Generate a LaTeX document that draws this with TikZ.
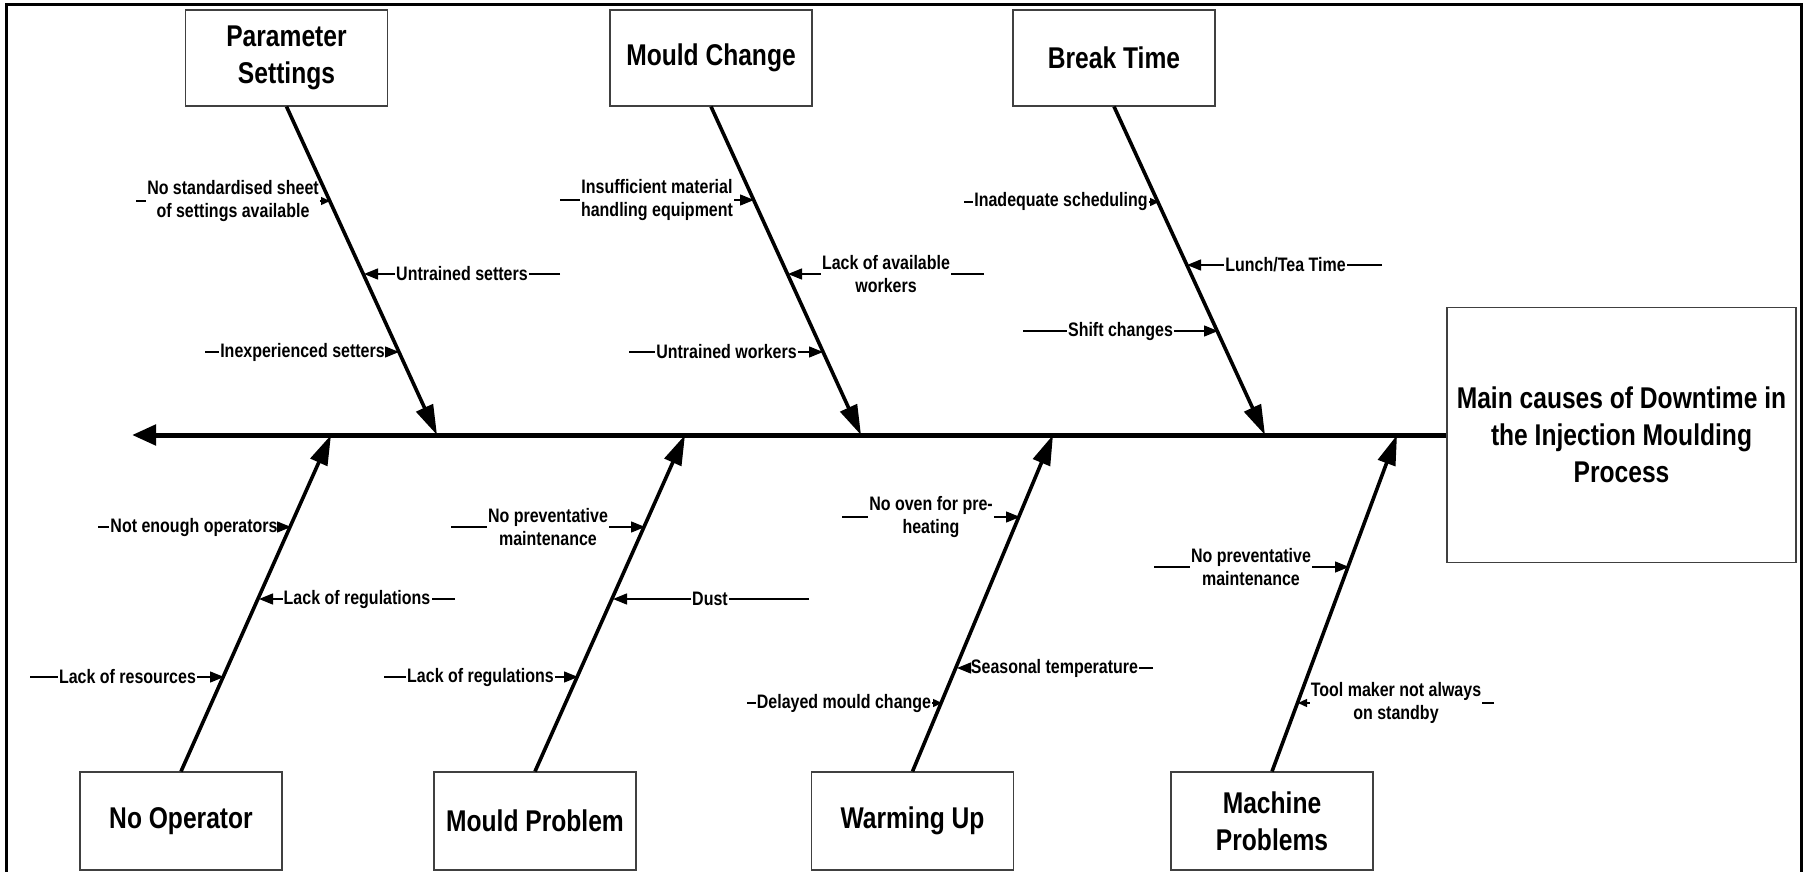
\documentclass[tikz,border=0pt]{standalone}
\usepackage{fontspec}
\setmainfont{Liberation Sans}[FakeStretch=0.82]
\usetikzlibrary{arrows.meta}

\begin{document}
\begin{tikzpicture}[x=1pt,y=-1pt,
  cause/.style={draw=black!75, line width=1.1pt, fill=white, minimum width=202pt,
    minimum height=96pt, align=center, inner sep=2pt,
    font=\fontsize{30}{37}\selectfont\bfseries},
  effect/.style={cause, minimum width=349pt, minimum height=255pt},
  bone/.style={line width=3.6pt, -{Triangle[length=30pt,width=18pt]}},
  spine/.style={line width=5pt, -{Triangle[length=24pt,width=20pt]}},
  twig/.style={line width=1.4pt},
  twigarrow/.style={twig, -{Triangle[length=14pt,width=11pt]}},
  twigsmall/.style={twig, -{Triangle[length=9pt,width=8pt]}},
  lbl/.style={inner xsep=1pt, inner ysep=0pt, align=center,
    font=\fontsize{19.5}{23.5}\selectfont\bfseries},
]
\useasboundingbox (0,0) rectangle (1807,872);

% outer frame
\draw[line width=3pt] (6,880) -- (6,5) -- (1801,5) -- (1801,880);

% effect box and main spine
\node[effect] (main) at (1621.5,435) {Main causes of Downtime in\\the Injection Moulding\\Process};
\coordinate (head) at (132,435);
\draw[spine] (main.west) -- (head);

% category boxes
\node[cause] (ps)  at (286.5,58) {Parameter\\Settings};
\node[cause] (mc)  at (711,58)   {Mould Change};
\node[cause] (bt)  at (1114,58)  {Break Time};
\node[cause, minimum height=98pt] (no)  at (181,821)   {No Operator};
\node[cause, minimum height=98pt] (mp)  at (535,821)   {Mould Problem};
\node[cause, minimum height=98pt] (wu)  at (912.5,821) {Warming Up};
\node[cause, minimum height=98pt] (mpr) at (1272,821)  {Machine\\Problems};

% joints on the spine
\coordinate (j1) at (437,435);
\coordinate (j2) at (861,435);
\coordinate (j3) at (1265,435);
\coordinate (j4) at (331,435);
\coordinate (j5) at (685,435);
\coordinate (j6) at (1053,435);
\coordinate (j7) at (1397,435);

% main bones
\draw[bone] (ps.south) -- (j1);
\draw[bone] (mc.south) -- (j2);
\draw[bone] (bt.south) -- (j3);
\draw[bone] (no.north) -- (j4);
\draw[bone] (mp.north) -- (j5);
\draw[bone] (wu.north) -- (j6);
\draw[bone] (mpr.north) -- (j7);

% arrow tips on the bones
\coordinate (t1) at (330,201);   \coordinate (t2) at (364,274);
\coordinate (t3) at (399,352);   \coordinate (t4) at (754,200);
\coordinate (t5) at (788,274);   \coordinate (t6) at (823,352);
\coordinate (t7) at (1159,202);  \coordinate (t8) at (1187,265);
\coordinate (t9) at (1218,331);  \coordinate (t10) at (291,527);
\coordinate (t11) at (259,599);  \coordinate (t12) at (224,677);
\coordinate (t13) at (645,527);  \coordinate (t14) at (613,599);
\coordinate (t15) at (578,677);  \coordinate (t16) at (1020,517);
\coordinate (t17) at (957,668);  \coordinate (t18) at (942,703);
\coordinate (t19) at (1349,567); \coordinate (t20) at (1298,703);

% free ends of the sub-cause lines
\coordinate (s1) at (136,201);   \coordinate (s2) at (560,274);
\coordinate (s3) at (205,352);   \coordinate (s4) at (560,200);
\coordinate (s5) at (984,274);   \coordinate (s6) at (629,352);
\coordinate (s7) at (964,202);   \coordinate (s8) at (1382,265);
\coordinate (s9) at (1023,331);  \coordinate (s10) at (98,527);
\coordinate (s11) at (455,599);  \coordinate (s12) at (30,677);
\coordinate (s13) at (451,527);  \coordinate (s14) at (809,599);
\coordinate (s15) at (384,677);  \coordinate (s16) at (842,517);
\coordinate (s17) at (1153,668); \coordinate (s18) at (747,703);
\coordinate (s19) at (1154,567); \coordinate (s20) at (1494,703);

% sub-cause labels
\node[lbl] (l1)  at (233,201)    {No standardised sheet\\of settings available};
\node[lbl] (l2)  at (462,274)    {Untrained setters};
\node[lbl] (l3)  at (302.5,352)  {Inexperienced setters};
\node[lbl] (l4)  at (657,200)    {Insufficient material\\handling equipment};
\node[lbl] (l5)  at (886,274)    {Lack of available\\workers};
\node[lbl] (l6)  at (726.5,352)  {Untrained workers};
\node[lbl] (l7)  at (1061,202)   {Inadequate scheduling};
\node[lbl] (l8)  at (1285.5,265) {Lunch/Tea Time};
\node[lbl] (l9)  at (1120.5,331) {Shift changes};
\node[lbl] (l10) at (194,527)    {Not enough operators};
\node[lbl] (l11) at (357,599)    {Lack of regulations};
\node[lbl] (l12) at (127.5,677)  {Lack of resources};
\node[lbl] (l13) at (548,527)    {No preventative\\maintenance};
\node[lbl] (l14) at (710,599)    {Dust};
\node[lbl] (l15) at (480.5,677)  {Lack of regulations};
\node[lbl] (l16) at (931,517)    {No oven for pre-\\heating};
\node[lbl] (l17) at (1054.5,668) {Seasonal temperature};
\node[lbl] (l18) at (844,703)    {Delayed mould change};
\node[lbl] (l19) at (1251,567)   {No preventative\\maintenance};
\node[lbl] (l20) at (1396,703)   {Tool maker not always\\on standby};

% sub-cause lines running into the bones
\foreach \i in {2,3,4,5,6,8,9,10,11,12,13,14,15,16,17,19} {
  \draw[twig] (s\i) -- (l\i);
  \draw[twigarrow] (l\i) -- (t\i);
}
% lines whose label sits right against the bone get a smaller tip
\foreach \i in {1,7,18,20} {
  \draw[twig] (s\i) -- (l\i);
  \draw[twigsmall] (l\i) -- (t\i);
}
\end{tikzpicture}
\end{document}
